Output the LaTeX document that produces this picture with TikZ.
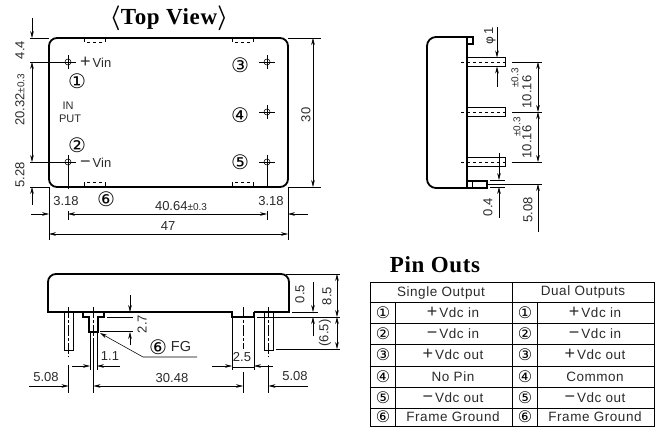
\documentclass[tikz,border=0pt]{standalone}
\usepackage{fontspec}
\setmainfont{Liberation Sans}
\newfontfamily\headfont[LetterSpace=3]{Liberation Serif}
\newfontfamily\numfont{DejaVu Sans}
\newfontfamily\cellfont[LetterSpace=4]{Liberation Sans}
\usetikzlibrary{arrows.meta}
\definecolor{ink}{HTML}{2A2A2A}
\tikzset{
	>={Stealth[length=7pt,width=3.6pt]},
	body/.style={line width=1.8pt,black},
	dim/.style={line width=.55pt,black},
	ctr/.style={line width=.55pt,black,dash pattern=on 11pt off 2pt on 3pt off 2pt},
	lbl/.style={inner sep=0pt,text=ink,font=\fontsize{13}{13}\selectfont},
	lblv/.style={lbl,rotate=90},
	cnum/.style={inner sep=0pt,text=black,font=\fontsize{20}{20}\numfont},
	cell/.style={inner sep=0pt,text=ink,font=\fontsize{13.5}{14}\cellfont},
	head/.style={inner sep=0pt,text=black,font=\fontsize{23}{23}\headfont\bfseries\boldmath},
}
\newcommand{\tol}{{\fontsize{10}{10}\selectfont ±0.3}}
\newcommand{\wide}[1]{\smash{\fontsize{18}{14}\selectfont #1}\hspace{2pt}}
\begin{document}
\begin{tikzpicture}[x=1pt,y=-1pt]
\useasboundingbox (0,0) rectangle (655,427);
% top view
\node[head] (topTitle) at (169,18) {$\langle$Top View$\rangle$};
\draw[body,rounded corners=8pt] (49,38) rectangle (288,187);
\foreach \x in {84,232}{
	\draw[dim] (\x,38)--(\x,42) (\x+21,38)--(\x+21,42);
	\draw[dim,dashed] (\x+3,42)--(\x+19,42);
	\draw[dim] (\x,187)--(\x,182) (\x+21,187)--(\x+21,182);
	\draw[dim,dashed] (\x+3,182)--(\x+19,182);}
\foreach \x/\y in {68/62,68/162,267/62,267/112,267/162}{
	\draw[dim] (\x,\y) circle (3pt);
	\draw[dim] (\x-8,\y)--(\x+8,\y) (\x,\y-7)--(\x,\y+7);}
\node[lbl,anchor=west] (plusVin) at (80,63) {\wide{+}Vin};
\node[lbl,anchor=west] (minusVin) at (80,163) {\wide{−}Vin};
\node[lbl,font=\fontsize{11}{11}\selectfont] (labIn) at (68,106) {IN};
\node[lbl,font=\fontsize{11}{11}\selectfont] (labPut) at (70,119) {PUT};
\node[cnum] (topOne) at (77,81) {①};
\node[cnum] (topTwo) at (77,145) {②};
\node[cnum] (topThree) at (240,65) {③};
\node[cnum] (topFour) at (240,115) {④};
\node[cnum] (topFive) at (240,162) {⑤};
\node[cnum] (topSix) at (106,199) {⑥};
% top view, dimensions
\draw[dim] (30,38)--(49,38) (30,62)--(60,62) (30,162)--(60,162) (30,187)--(49,187);
\draw[dim,->] (32,18)--(32,38);
\draw[dim,<->] (32,62)--(32,162);
\draw[dim,->] (32,205)--(32,187);
\node[lblv] (dimFourFour) at (20,50) {4.4};
\node[lblv] (dimTwenty) at (20,100) {20.32\tol};
\node[lblv] (dimFiveTwo) at (20,175) {5.28};
\draw[dim] (288,38)--(321,38) (288,187)--(321,187);
\draw[dim,<->] (313,38)--(313,187);
\node[lblv] (dimThirty) at (306,115) {30};
\draw[dim] (68,155)--(68,189) (68,211)--(68,220) (267,155)--(267,186) (267,211)--(267,220) (49,187)--(49,240) (288,187)--(288,240);
\draw[dim,->] (31,214)--(49,214);
\draw[dim,<->] (68,214)--(267,214);
\draw[dim,->] (308,214)--(288,214);
\draw[dim,<->] (49,234)--(288,234);
\node[lbl] (dimPitchL) at (66,201) {3.18};
\node[lbl] (dimForty) at (181,206) {40.64\tol};
\node[lbl] (dimPitchR) at (271,201) {3.18};
\node[lbl] (dimFortySeven) at (168,226) {47};
% side view
\draw[body] (467,37)--(436,37) arc (90:180:9pt)--(427,179) arc (180:270:9pt)--(467,188);
\draw[body] (467,37)--(467,188);
\draw[line width=1.3pt] (467,37) rectangle (473,44);
\draw[line width=1.3pt] (467,181) rectangle (487,188);
\draw[line width=1pt] (472,181)--(472,188);
\foreach \y in {62,112,162}{
	\draw[line width=1pt] (467,\y-4.5) rectangle (505,\y+4.5);
	\draw[dim,dashed] (461,\y)--(505,\y);
	\draw[dim] (512,\y)--(542,\y);}
\draw[dim] (488,184)--(542,184) (490,180)--(505,180) (490,187)--(505,187);
\draw[dim,<->] (538,62)--(538,112);
\draw[dim,<->] (538,112)--(538,162);
\draw[dim,->] (538,232)--(538,184);
\draw[dim,->] (497,27)--(497,57.5);
\draw[dim,->] (497,87)--(497,66.5);
\draw[dim,->] (499,153)--(499,180);
\draw[dim,->] (499,218)--(499,187);
\node[lblv] (dimPhi) at (490,36) {{\numfont\fontsize{12}{12}\selectfont φ}\,1};
\node[lblv] (dimTolA) at (515,78) {\tol};
\node[lblv] (dimTenA) at (527,92) {10.16};
\node[lblv] (dimTolB) at (517,127) {\tol};
\node[lblv] (dimTenB) at (527,142) {10.16};
\node[lblv] (dimGap) at (488,207) {0.4};
\node[lblv] (dimFiveSide) at (528,210) {5.08};
% front view
\draw[body] (104,312)--(48,312)--(48,282) arc (180:90:8pt)--(281,274) arc (90:0:8pt)--(289,312)--(254,312);
\draw[body] (83,312)--(83,317)--(89,317)--(89,332)--(98,332)--(98,317)--(104,317)--(104,312);
\draw[body] (104,312)--(232,312)--(232,317)--(254,317)--(254,312);
\foreach \x in {68.5,268.5}{
	\draw[line width=1pt] (\x-4.5,312) rectangle (\x+4.5,350);}
\draw[ctr] (68.5,307)--(68.5,357);
\draw[ctr] (268.5,307)--(268.5,357);
\draw[ctr] (93.5,307)--(93.5,340);
\draw[ctr] (243,307)--(243,349);
\draw[dim] (68.5,365)--(68.5,393) (93.5,340)--(93.5,393) (243,372)--(243,393) (268.5,365)--(268.5,393);
\draw[dim] (90,333)--(90,370) (97,333)--(97,370) (232,318)--(232,370) (254,318)--(254,370);
\draw[dim,->] (72,366)--(90,366);
\draw[dim,->] (120,366)--(97,366);
\draw[dim,->] (212,366)--(232,366);
\draw[dim,->] (273,366)--(254,366);
\draw[dim] (232,367)--(254,367);
\draw[dim,->] (29,386)--(68.5,386);
\draw[dim,<->] (93.5,386)--(243,386);
\draw[dim,->] (308,386)--(268.5,386);
\node[lbl] (dimPin) at (110,356) {1.1};
\node[lbl] (dimWide) at (242,357) {2.5};
\node[lbl] (dimFiveL) at (46,377) {5.08};
\node[lbl] (dimThirtyF) at (172,378) {30.48};
\node[lbl] (dimFiveR) at (295,376) {5.08};
\draw[dim] (107,317)--(133,317) (100,331)--(133,331);
\draw[dim,->] (130,295)--(130,312);
\draw[dim,->] (130,345)--(130,332);
\node[lblv] (dimTwoSeven) at (142,324) {2.7};
\coordinate (fgKnee) at (143,357);
\draw[dim,->] (197,357)--(fgKnee)--(100,333);
\node[cnum] (fgNum) at (158,347) {⑥};
\node[lbl,font=\fontsize{14.5}{15}\selectfont] (fgText) at (181,347) {FG};
\draw[dim] (286,274)--(340,274) (292,312)--(318,312) (257,317)--(340,317) (276,349)--(340,349);
\draw[dim,->] (313,282)--(313,312);
\draw[dim,->] (313,336)--(313,317);
\draw[dim,<->] (337,274)--(337,317);
\draw[dim,<->] (337,317)--(337,349);
\node[lblv] (dimHalf) at (300,294) {0.5};
\node[lblv] (dimEight) at (327,296) {8.5};
\node[lblv] (dimSix) at (325,333) {(6.5)};
% pin table
\node[head] (pinTitle) at (435,265) {Pin Outs};
\draw[line width=.7pt] (370,282) rectangle (654.5,426.5);
\foreach \y in {302,323,344,366,387,408}{
	\draw[dim] (370,\y)--(654.5,\y);}
\draw[line width=.7pt] (512,282)--(512,426.5);
\draw[dim] (395,302)--(395,426.5) (537,302)--(537,426.5);
\node[cell] (headSingle) at (441,293) {Single Output};
\node[cell] (headDual) at (583,292) {Dual Outputs};
\foreach \y/\n/\c/\a/\b [count=\i] in {
	312.5/①/①/\wide{+}Vdc in/\wide{+}Vdc in,
	334/②/②/\wide{−}Vdc in/\wide{−}Vdc in,
	355/③/③/\wide{+}Vdc out/\wide{+}Vdc out,
	376.5/④/④/No Pin/Common,
	397.5/⑤/⑤/\wide{−}Vdc out/\wide{−}Vdc out,
	417/⑥/⑥/Frame Ground/Frame Ground}{
	\node[cnum,font=\fontsize{16}{16}\numfont] (numL\i) at (383,\y) {\n};
	\node[cnum,font=\fontsize{16}{16}\numfont] (numR\i) at (525,\y) {\c};
	\node[cell] (single\i) at (453,\y) {\a};
	\node[cell] (dual\i) at (595,\y) {\b};}
\end{tikzpicture}
\end{document}
